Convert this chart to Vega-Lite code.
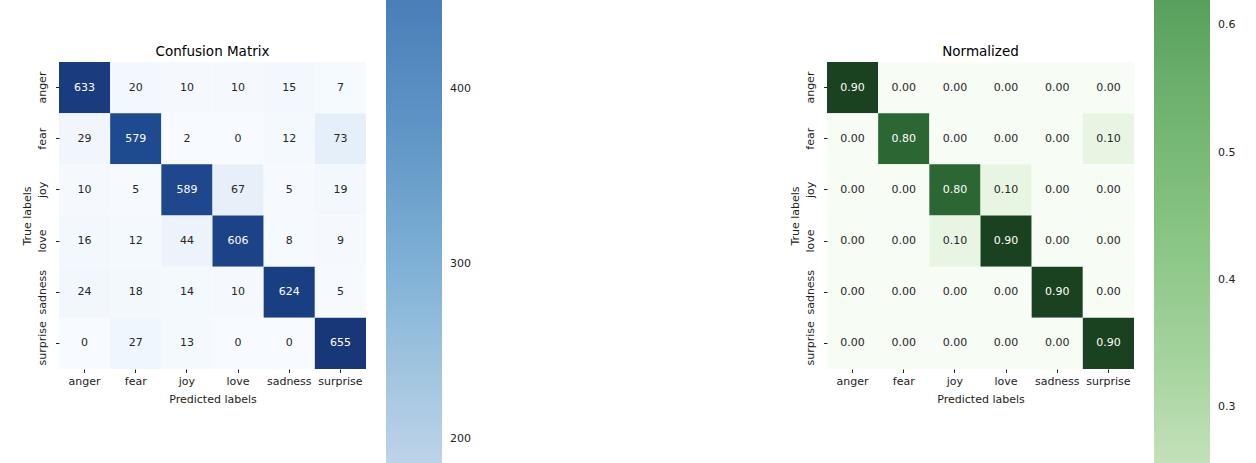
{
  "$schema": "https://vega.github.io/schema/vega-lite/v6.json",
  "padding": {"left": 21, "top": 0, "right": 0, "bottom": 0},
  "background": "white",
  "bounds": "flush",
  "spacing": 461,
  "config": {
    "font": "DejaVu Sans",
    "view": {"stroke": null},
    "title": {"fontSize": 13.5, "fontWeight": "normal", "color": "#000000", "font": "DejaVu Sans", "offset": -58, "frame": "group"},
    "axis": {
      "domain": false, "grid": false, "tickSize": 3.5, "tickColor": "#222222", "tickWidth": 1,
      "labelFontSize": 11, "labelColor": "#222222", "labelFont": "DejaVu Sans",
      "titleFontSize": 11, "titleColor": "#222222", "titleFont": "DejaVu Sans", "titleFontWeight": "normal"
    },
    "legend": {"labelFontSize": 11, "labelColor": "#222222", "labelFont": "DejaVu Sans"}
  },
  "datasets": {
    "cm": [
      {"t": "anger", "p": "anger", "v": 633}, {"t": "anger", "p": "fear", "v": 20}, {"t": "anger", "p": "joy", "v": 10}, {"t": "anger", "p": "love", "v": 10}, {"t": "anger", "p": "sadness", "v": 15}, {"t": "anger", "p": "surprise", "v": 7},
      {"t": "fear", "p": "anger", "v": 29}, {"t": "fear", "p": "fear", "v": 579}, {"t": "fear", "p": "joy", "v": 2}, {"t": "fear", "p": "love", "v": 0}, {"t": "fear", "p": "sadness", "v": 12}, {"t": "fear", "p": "surprise", "v": 73},
      {"t": "joy", "p": "anger", "v": 10}, {"t": "joy", "p": "fear", "v": 5}, {"t": "joy", "p": "joy", "v": 589}, {"t": "joy", "p": "love", "v": 67}, {"t": "joy", "p": "sadness", "v": 5}, {"t": "joy", "p": "surprise", "v": 19},
      {"t": "love", "p": "anger", "v": 16}, {"t": "love", "p": "fear", "v": 12}, {"t": "love", "p": "joy", "v": 44}, {"t": "love", "p": "love", "v": 606}, {"t": "love", "p": "sadness", "v": 8}, {"t": "love", "p": "surprise", "v": 9},
      {"t": "sadness", "p": "anger", "v": 24}, {"t": "sadness", "p": "fear", "v": 18}, {"t": "sadness", "p": "joy", "v": 14}, {"t": "sadness", "p": "love", "v": 10}, {"t": "sadness", "p": "sadness", "v": 624}, {"t": "sadness", "p": "surprise", "v": 5},
      {"t": "surprise", "p": "anger", "v": 0}, {"t": "surprise", "p": "fear", "v": 27}, {"t": "surprise", "p": "joy", "v": 13}, {"t": "surprise", "p": "love", "v": 0}, {"t": "surprise", "p": "sadness", "v": 0}, {"t": "surprise", "p": "surprise", "v": 655}
    ],
    "norm": [
      {"t": "anger", "p": "anger", "v": 0.9}, {"t": "anger", "p": "fear", "v": 0}, {"t": "anger", "p": "joy", "v": 0}, {"t": "anger", "p": "love", "v": 0}, {"t": "anger", "p": "sadness", "v": 0}, {"t": "anger", "p": "surprise", "v": 0},
      {"t": "fear", "p": "anger", "v": 0}, {"t": "fear", "p": "fear", "v": 0.8}, {"t": "fear", "p": "joy", "v": 0}, {"t": "fear", "p": "love", "v": 0}, {"t": "fear", "p": "sadness", "v": 0}, {"t": "fear", "p": "surprise", "v": 0.1},
      {"t": "joy", "p": "anger", "v": 0}, {"t": "joy", "p": "fear", "v": 0}, {"t": "joy", "p": "joy", "v": 0.8}, {"t": "joy", "p": "love", "v": 0.1}, {"t": "joy", "p": "sadness", "v": 0}, {"t": "joy", "p": "surprise", "v": 0},
      {"t": "love", "p": "anger", "v": 0}, {"t": "love", "p": "fear", "v": 0}, {"t": "love", "p": "joy", "v": 0.1}, {"t": "love", "p": "love", "v": 0.9}, {"t": "love", "p": "sadness", "v": 0}, {"t": "love", "p": "surprise", "v": 0},
      {"t": "sadness", "p": "anger", "v": 0}, {"t": "sadness", "p": "fear", "v": 0}, {"t": "sadness", "p": "joy", "v": 0}, {"t": "sadness", "p": "love", "v": 0}, {"t": "sadness", "p": "sadness", "v": 0.9}, {"t": "sadness", "p": "surprise", "v": 0},
      {"t": "surprise", "p": "anger", "v": 0}, {"t": "surprise", "p": "fear", "v": 0}, {"t": "surprise", "p": "joy", "v": 0}, {"t": "surprise", "p": "love", "v": 0}, {"t": "surprise", "p": "sadness", "v": 0}, {"t": "surprise", "p": "surprise", "v": 0.9}
    ]
  },
  "hconcat": [
    {
      "title": "Confusion Matrix",
      "width": 307, "height": 307,
      "data": {"name": "cm"},
      "encoding": {
        "x": {"field": "p", "type": "nominal", "sort": ["anger", "fear", "joy", "love", "sadness", "surprise"], "title": "Predicted labels", "axis": {"labelAngle": 0, "labelPadding": 3, "titlePadding": 7}},
        "y": {"field": "t", "type": "nominal", "sort": ["anger", "fear", "joy", "love", "sadness", "surprise"], "title": "True labels", "axis": {"labelAngle": 270, "labelAlign": "center", "labelBaseline": "bottom", "labelPadding": 8, "titlePadding": 4}}
      },
      "layer": [
        {
          "mark": {"type": "rect"},
          "encoding": {
            "color": {"field": "v", "type": "quantitative", "legend": null,
              "scale": {"domain": [0, 81.875, 163.75, 245.625, 327.5, 409.375, 491.25, 573.125, 655],
                        "range": ["#f7fbff", "#e3edf8", "#cbdcee", "#a3c6e0", "#75a9d2", "#4a85c0", "#2f64a6", "#1f4b92", "#173778"]}}
          }
        },
        {
          "mark": {"type": "text", "fontSize": 11, "font": "DejaVu Sans"},
          "encoding": {
            "text": {"field": "v", "type": "quantitative", "format": "d"},
            "color": {"condition": {"test": "datum.v > 300", "value": "#ffffff"}, "value": "#262626"}
          }
        },
        {
          "mark": {"type": "rect", "opacity": 0},
          "encoding": {
            "color": {"field": "v", "type": "quantitative",
              "scale": {"domain": [186.3, 245, 300, 365, 450.9], "range": ["#bdd3e9", "#9dc3df", "#7fb0d6", "#6399c8", "#4a7eb8"]},
              "legend": {"orient": "none", "legendX": 327, "legendY": -62, "direction": "vertical", "gradientLength": 463, "gradientThickness": 56, "gradientStrokeWidth": 0, "title": null, "values": [200, 300, 400], "format": "d", "labelOffset": 8}}
          }
        }
      ],
      "resolve": {"scale": {"color": "independent"}}
    },
    {
      "title": "Normalized",
      "width": 307, "height": 307,
      "data": {"name": "norm"},
      "encoding": {
        "x": {"field": "p", "type": "nominal", "sort": ["anger", "fear", "joy", "love", "sadness", "surprise"], "title": "Predicted labels", "axis": {"labelAngle": 0, "labelPadding": 3, "titlePadding": 7}},
        "y": {"field": "t", "type": "nominal", "sort": ["anger", "fear", "joy", "love", "sadness", "surprise"], "title": "True labels", "axis": {"labelAngle": 270, "labelAlign": "center", "labelBaseline": "bottom", "labelPadding": 8, "titlePadding": 4}}
      },
      "layer": [
        {
          "mark": {"type": "rect"},
          "encoding": {
            "color": {"field": "v", "type": "quantitative", "legend": null,
              "scale": {"domain": [0, 0.1125, 0.225, 0.3375, 0.45, 0.5625, 0.675, 0.7875, 0.9],
                        "range": ["#f7fcf5", "#e6f4e1", "#cae8c2", "#a4d39d", "#7dbd7a", "#54a35d", "#3b8549", "#2d6b35", "#1a4220"]}}
          }
        },
        {
          "mark": {"type": "text", "fontSize": 11, "font": "DejaVu Sans"},
          "encoding": {
            "text": {"field": "v", "type": "quantitative", "format": ".2f"},
            "color": {"condition": {"test": "datum.v > 0.45", "value": "#ffffff"}, "value": "#262626"}
          }
        },
        {
          "mark": {"type": "rect", "opacity": 0},
          "encoding": {
            "color": {"field": "v", "type": "quantitative",
              "scale": {"domain": [0.2564, 0.3375, 0.45, 0.5625, 0.62], "range": ["#c3e1b9", "#a4d39d", "#84c27f", "#68ae6a", "#589f5d"]},
              "legend": {"orient": "none", "legendX": 327, "legendY": -62, "direction": "vertical", "gradientLength": 463, "gradientThickness": 56, "gradientStrokeWidth": 0, "title": null, "values": [0.3, 0.4, 0.5, 0.6], "format": ".1f", "labelOffset": 8}}
          }
        }
      ],
      "resolve": {"scale": {"color": "independent"}}
    }
  ]
}
